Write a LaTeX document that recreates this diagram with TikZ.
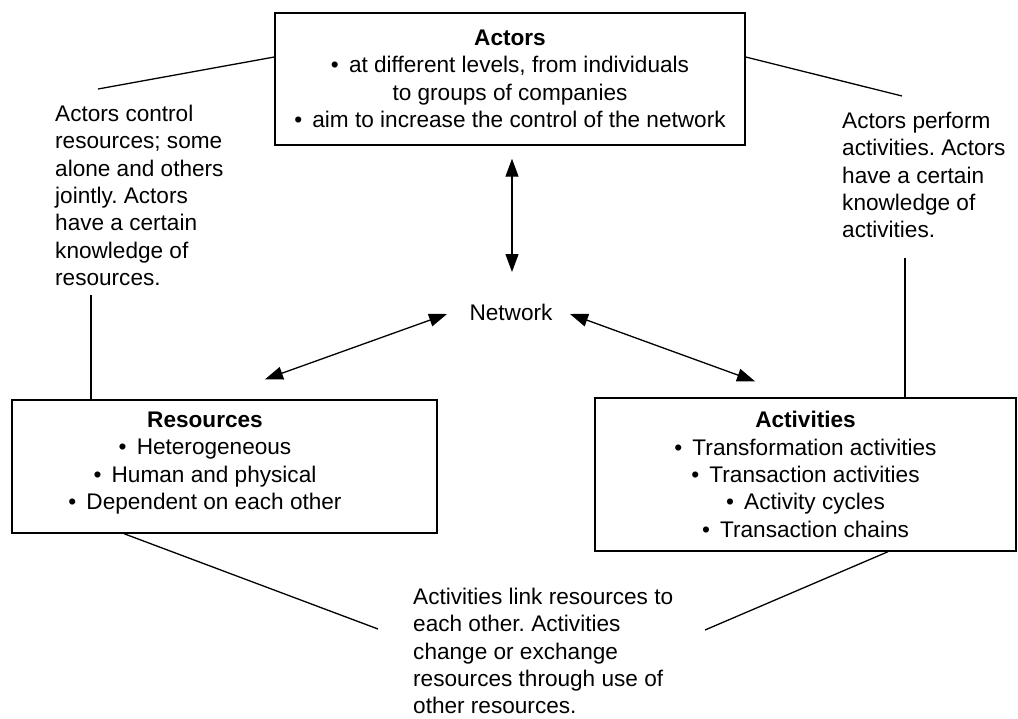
\documentclass[tikz,border=0pt]{standalone}
\usepackage{fontspec}
\setmainfont{Liberation Sans}
\usetikzlibrary{arrows.meta}
\newcommand{\bul}{\textbullet\hspace{0.45em}}
\begin{document}
\frenchspacing
\begin{tikzpicture}[x=1pt,y=1pt,
  every node/.style={font=\fontsize{22.6}{27.4}\selectfont, inner sep=0pt},
  box/.style={draw, line width=1.4pt, align=center},
  txt/.style={align=left, anchor=west},
  conn/.style={line width=1.3pt},
  dbl/.style={line width=1.3pt, {Triangle[length=18pt,width=13pt]}-{Triangle[length=18pt,width=13pt]}}]
\useasboundingbox (0,0) rectangle (1018,-718);

\node[box, minimum width=470, minimum height=132] (actors) at (510,-79)
  {\textbf{Actors}\\ \bul at different levels, from individuals\\ to groups of companies\\ \bul aim to increase the control of the network};

\node[box, minimum width=425, minimum height=133] (res) at (224.5,-466.5) {};
\node[align=center] (restext) at (205,-463)
  {\textbf{Resources}\\ \bul Heterogeneous\\ \bul Human and physical\\ \bul Dependent on each other};

\node[box, minimum width=421, minimum height=153] (act) at (805.5,-474.5)
  {\textbf{Activities}\\ \bul Transformation activities\\ \bul Transaction activities\\ \bul Activity cycles\\ \bul Transaction chains};

\node (net) at (511,-312) {Network};

\node[txt] (tl) at (55,-195.5) {Actors control\\resources; some\\alone and others\\jointly. Actors\\have a certain\\knowledge of\\resources.};
\node[txt] (tr) at (842,-175) {Actors perform\\activities. Actors\\have a certain\\knowledge of\\activities.};
\node[txt] (tb) at (413,-651) {Activities link resources to\\each other. Activities\\change or exchange\\resources through use of\\other resources.};

\draw[dbl] ([shift={(2,-13)}]actors.south) -- ([shift={(1,40)}]net.center);
\draw[dbl] ([shift={(40.5,20)}]res.north) -- ([shift={(-64,-2)}]net.center);
\draw[dbl] ([shift={(59,-2)}]net.center) -- ([shift={(-50.5,16)}]act.north);

\coordinate (lA) at (98,-89);
\coordinate (rA) at (902,-96);
\coordinate (lV) at (91,-295);
\coordinate (rV) at (905,-258);
\coordinate (bL) at (378,-629);
\coordinate (bR) at (705,-630);

\draw[conn] (lA) -- ([yshift=22]actors.west);
\draw[conn] ([yshift=22]actors.east) -- (rA);
\draw[conn] (lV) -- (lV |- res.north);
\draw[conn] (rV) -- (rV |- act.north);
\draw[conn] ([xshift=-100.5]res.south) -- (bL);
\draw[conn] ([xshift=82.5]act.south) -- (bR);
\end{tikzpicture}
\end{document}
